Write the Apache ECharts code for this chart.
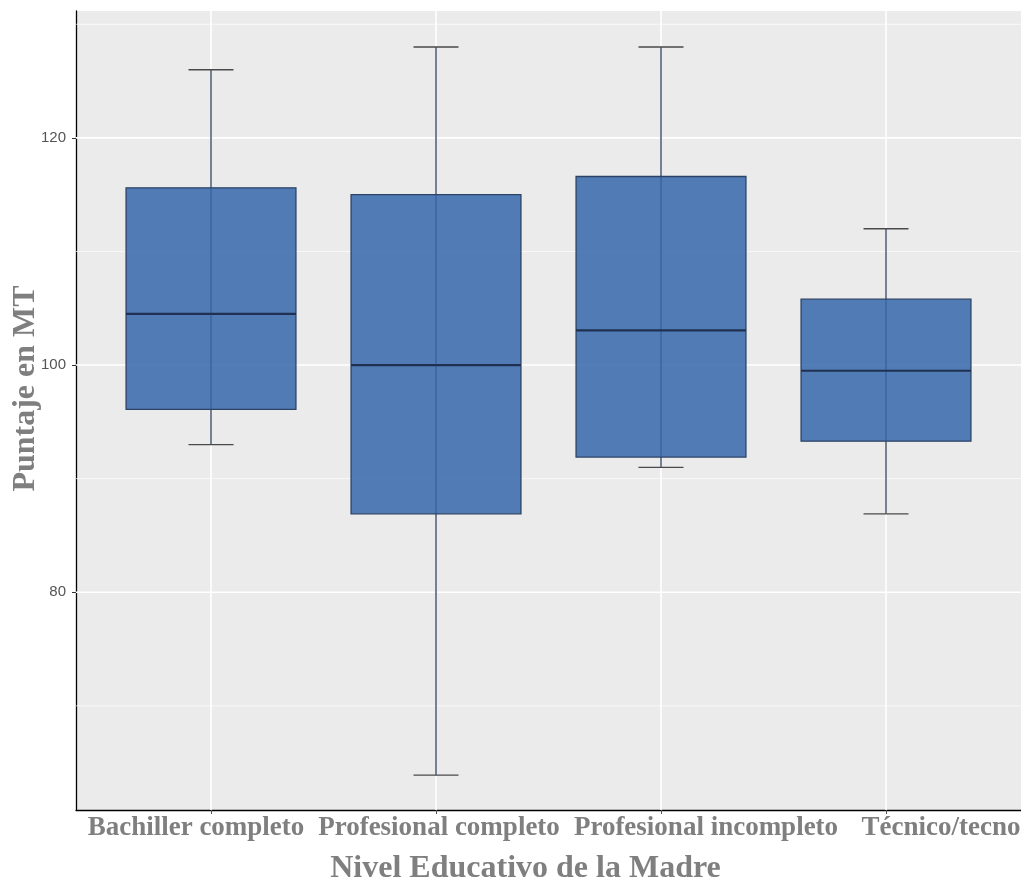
<!DOCTYPE html>
<html>
<head>
<meta charset="utf-8">
<script src="https://cdn.jsdelivr.net/npm/echarts@6/dist/echarts.min.js"></script>
<style>
html,body{margin:0;padding:0;background:#fff;}
#chart{width:1021px;height:880px;}
</style>
</head>
<body>
<div id="chart"></div>
<script>
const categories = ['Bachiller completo', 'Profesional completo', 'Profesional incompleto', 'Técnico/tecno'];
const lowWhisker = [93.0, 63.9, 91.0, 86.9];
const q1 = [96.1, 86.9, 91.9, 93.3];
const median = [104.5, 100.0, 103.05, 99.5];
const q3 = [115.6, 115.0, 116.6, 105.8];
const highWhisker = [126.0, 128.0, 128.0, 112.0];
const yTickLabels = [80, 100, 120];
const yMinorGrid = [70, 90, 110, 130];

// horizontal nudge of each category label (px), as laid out in the reference
const labelShift = [-15, 3, 45, 55];

const boxData = categories.map((c, i) => [i, lowWhisker[i], q1[i], median[i], q3[i], highWhisker[i]]);
// gridline records: [orientation (0 = horizontal, 1 = vertical), value, major flag]
const gridData = [
  ...yMinorGrid.map(v => [0, v, 0]),
  ...yTickLabels.map(v => [0, v, 1]),
  ...categories.map((c, i) => [1, i, 1])
];

const chart = echarts.init(document.getElementById('chart'), null, {renderer: 'canvas'});

function renderGrid(params, api) {
  const cs = params.coordSys;
  const orient = api.value(0);
  const v = api.value(1);
  const major = api.value(2) === 1;
  const style = {stroke: '#ffffff', lineWidth: major ? 1.6 : 0.8, opacity: major ? 1 : 0.85};
  if (orient === 0) {
    const y = api.coord([0, v])[1];
    return {type: 'line', shape: {x1: cs.x, y1: y, x2: cs.x + cs.width, y2: y}, style: style};
  }
  const x = api.coord([v, 100])[0];
  return {type: 'line', shape: {x1: x, y1: cs.y, x2: x, y2: cs.y + cs.height}, style: style};
}

function renderBox(params, api) {
  const x = api.value(0);
  const pLo = api.coord([x, api.value(1)]);
  const pQ1 = api.coord([x, api.value(2)]);
  const pMed = api.coord([x, api.value(3)]);
  const pQ3 = api.coord([x, api.value(4)]);
  const pHi = api.coord([x, api.value(5)]);
  const band = api.size([1, 0])[0];
  const boxW = band * 0.755;
  const capW = band * 0.2;
  const cx = pMed[0];
  return {
    type: 'group',
    children: [
      {type: 'line', shape: {x1: cx, y1: pHi[1], x2: cx, y2: pLo[1]}, style: {stroke: '#2c3f5e', lineWidth: 1.3}},
      {type: 'line', shape: {x1: cx - capW / 2, y1: pHi[1], x2: cx + capW / 2, y2: pHi[1]}, style: {stroke: '#4a4a4a', lineWidth: 1.3}},
      {type: 'line', shape: {x1: cx - capW / 2, y1: pLo[1], x2: cx + capW / 2, y2: pLo[1]}, style: {stroke: '#4a4a4a', lineWidth: 1.3}},
      {type: 'rect', shape: {x: cx - boxW / 2, y: pQ3[1], width: boxW, height: pQ1[1] - pQ3[1]},
        style: {fill: 'rgba(53,103,170,0.85)', stroke: '#2c4366', lineWidth: 1.3}},
      {type: 'line', shape: {x1: cx - boxW / 2, y1: pMed[1], x2: cx + boxW / 2, y2: pMed[1]}, style: {stroke: '#1f3050', lineWidth: 2.2}}
    ]
  };
}

const titleFont = {fontFamily: 'Liberation Serif', fontWeight: 'bold', color: '#7f7f7f'};
const catRich = {};
labelShift.forEach((s, i) => {
  catRich['c' + i] = {
    fontSize: 27, fontFamily: 'Liberation Serif', fontWeight: 'bold', color: '#7f7f7f',
    padding: s >= 0 ? [0, 0, 0, 2 * s] : [0, -2 * s, 0, 0]
  };
});

chart.setOption({
  animation: false,
  grid: {left: 76, right: 0, top: 11, bottom: 70, show: true, backgroundColor: '#ebebeb', borderWidth: 0,
    containLabel: false, outerBoundsMode: 'none'},
  xAxis: {
    type: 'value', min: -0.6, max: 3.6,
    name: 'Nivel Educativo de la Madre', nameLocation: 'middle', nameGap: 43, nameMoveOverlap: false,
    nameTextStyle: Object.assign({fontSize: 32, padding: [0, 46, 0, 0]}, titleFont),
    axisLine: {show: true, onZero: false, lineStyle: {color: '#000', width: 1.3}},
    axisTick: {show: true, customValues: [0, 1, 2, 3], length: 4, lineStyle: {color: '#555'}},
    axisLabel: {show: true, customValues: [0, 1, 2, 3], margin: 5, hideOverlap: false,
      formatter: v => { const i = Math.round(v); return categories[i] ? '{c' + i + '|' + categories[i] + '}' : ''; },
      rich: catRich,
      fontSize: 27, fontFamily: 'Liberation Serif', fontWeight: 'bold', color: '#7f7f7f'},
    splitLine: {show: false}
  },
  yAxis: {
    type: 'value', min: 60.83, max: 131.17,
    name: 'Puntaje en MT', nameLocation: 'middle', nameGap: 34, nameRotate: 90, nameMoveOverlap: false,
    nameTextStyle: Object.assign({fontSize: 32, padding: [0, 0, 0, 44]}, titleFont),
    axisLine: {show: true, onZero: false, lineStyle: {color: '#000', width: 1.3}},
    axisTick: {show: true, customValues: yTickLabels, length: 4, lineStyle: {color: '#333'}},
    axisLabel: {show: true, customValues: yTickLabels, margin: 10, hideOverlap: false, fontSize: 15, fontFamily: 'Liberation Sans', color: '#555'},
    splitLine: {show: false}
  },
  series: [
    {
      type: 'custom', z: 1, silent: true, data: gridData,
      encode: {x: 1, y: 1},
      renderItem: renderGrid
    },
    {
      type: 'custom', z: 3, data: boxData,
      encode: {x: 0, y: [1, 2, 3, 4, 5]},
      renderItem: renderBox
    }
  ]
});
</script>
</body>
</html>
